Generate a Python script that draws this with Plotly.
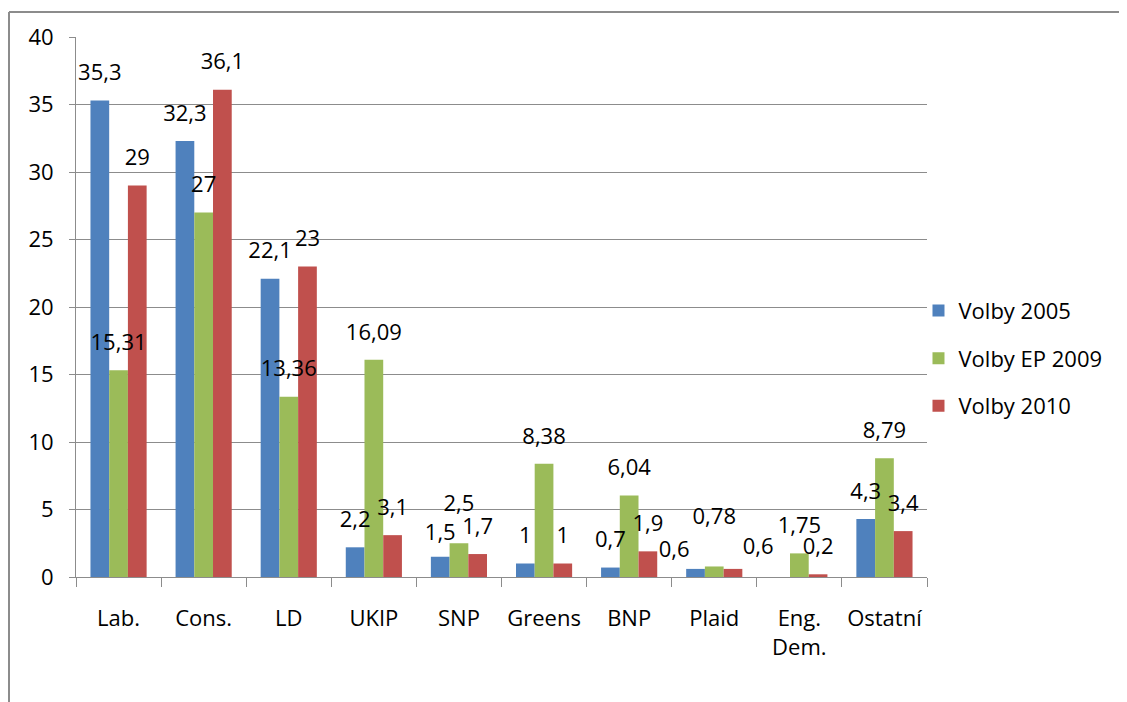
import plotly.graph_objects as go

categories = ["Lab.", "Cons.", "LD", "UKIP", "SNP", "Greens", "BNP", "Plaid", "Eng.<br>Dem.", "Ostatní"]
volby_2005 = [35.3, 32.3, 22.1, 2.2, 1.5, 1, 0.7, 0.6, None, 4.3]
volby_ep_2009 = [15.31, 27, 13.36, 16.09, 2.5, 8.38, 6.04, 0.78, 1.75, 8.79]
volby_2010 = [29, 36.1, 23, 3.1, 1.7, 1, 1.9, 0.6, 0.2, 3.4]
series_names = ["Volby 2005", "Volby EP 2009", "Volby 2010"]
colors = ["#4F81BD", "#9BBB59", "#C0504D"]
y_ticks = [0, 5, 10, 15, 20, 25, 30, 35, 40]

# label placement styles (labels nudged to avoid overlaps, as in the original)
label_pos = [
    ["top center"] * 7 + ["top left"] + ["top center"] * 2,
    ["top center"] * 10,
    ["top center"] * 7 + ["top right"] + ["top center"] * 2,
]
label_pad = [
    [22, 22, 22, 22, 16, 22, 22, 8, 22, 22],
    [22, 22, 22, 22, 42, 22, 22, 58, 22, 22],
    [22, 22, 22, 22, 22, 22, 22, 14, 22, 22],
]

FONT = "Open Sans"
FS = 22
GAP = 0.34

# the page body has an 8px margin, so the plot area is placed accordingly
L, T, W, H = 68, 29, 851, 540


def fmt(v):
    if v is None:
        return ""
    return f"{v:g}".replace(".", ",")


all_series = [volby_2005, volby_ep_2009, volby_2010]

fig = go.Figure()
for i, (name, vals) in enumerate(zip(series_names, all_series)):
    fig.add_trace(go.Bar(
        x=categories, y=vals, name=name,
        marker=dict(color=colors[i], line=dict(width=0)),
        legendgroup=name,
    ))
for i, (name, vals) in enumerate(zip(series_names, all_series)):
    fig.add_trace(go.Scatter(
        x=categories, y=vals, mode="markers+text", showlegend=False,
        text=[fmt(v) for v in vals],
        textposition=label_pos[i],
        textfont=dict(family=FONT, size=FS, color="#000000"),
        marker=dict(size=label_pad[i], opacity=0, color=colors[i]),
        cliponaxis=False, hoverinfo="skip",
    ))

fig.update_layout(
    width=1127, height=702,
    margin=dict(l=L, r=1127 - L - W, t=T, b=702 - T - H, autoexpand=False),
    paper_bgcolor="white", plot_bgcolor="white",
    barmode="group", bargap=GAP, bargroupgap=0,
    scattermode="group", scattergap=GAP,
    font=dict(family=FONT, size=FS, color="#000000"),
    legend=dict(
        x=0.99, y=0.405, xanchor="left", yanchor="middle",
        font=dict(family=FONT, size=FS, color="#000000"),
        tracegroupgap=16, bgcolor="rgba(0,0,0,0)",
    ),
    showlegend=True,
)

fig.update_yaxes(
    range=[0, 40], tickvals=y_ticks, ticktext=[str(t) for t in y_ticks],
    showgrid=True, gridcolor="#8C8C8C", gridwidth=1,
    showline=True, linecolor="#8C8C8C", linewidth=1,
    ticks="outside", ticklen=6, tickcolor="#8C8C8C",
    tickfont=dict(family=FONT, size=FS, color="#000000"),
    ticklabelstandoff=11, zeroline=False, fixedrange=True,
)
fig.update_xaxes(
    showline=True, linecolor="#8C8C8C", linewidth=1,
    ticks="outside", ticklen=9, tickcolor="#8C8C8C", tickson="boundaries",
    tickfont=dict(family=FONT, size=FS, color="#000000"),
    ticklabelstandoff=22, fixedrange=True,
)

# outer chart frame (top and left border)
fx = (1 - L) / W
fy = (H + T - 4) / H
fig.add_shape(type="line", xref="paper", yref="paper",
              x0=fx, x1=(1127 - L) / W, y0=fy, y1=fy,
              line=dict(color="#8C8C8C", width=2))
fig.add_shape(type="line", xref="paper", yref="paper",
              x0=fx, x1=fx, y0=fy, y1=-(702 - T - H) / H,
              line=dict(color="#8C8C8C", width=2))

fig.write_html("out.html")
